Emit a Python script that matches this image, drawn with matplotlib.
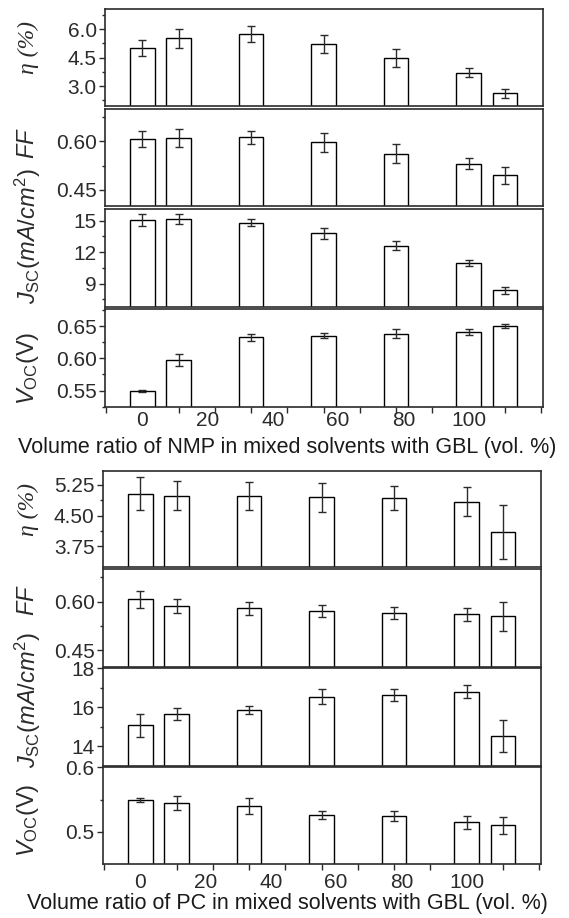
import numpy as np
import matplotlib.pyplot as plt
from matplotlib.ticker import FixedLocator, MultipleLocator, FormatStrFormatter

plt.rcParams['font.family'] = ['Liberation Sans', 'DejaVu Sans']
plt.rcParams['mathtext.fontset'] = 'custom'
plt.rcParams['mathtext.rm'] = 'Liberation Sans'
plt.rcParams['mathtext.it'] = 'Liberation Sans:italic'

# bar slots on the category axis, and where the vol.% labels sit
slots = [0, 1, 3, 5, 7, 9, 10]
ratio_labels = [0, 20, 40, 60, 80, 100]

# NMP / GBL series
nmp_eta = [5.03, 5.52, 5.74, 5.22, 4.50, 3.71, 2.61]
nmp_eta_err = [0.42, 0.49, 0.41, 0.50, 0.47, 0.25, 0.25]
nmp_ff = [0.607, 0.610, 0.613, 0.597, 0.562, 0.531, 0.495]
nmp_ff_err = [0.025, 0.028, 0.020, 0.030, 0.029, 0.018, 0.027]
nmp_jsc = [15.06, 15.16, 14.80, 13.78, 12.62, 10.98, 8.35]
nmp_jsc_err = [0.58, 0.45, 0.36, 0.50, 0.46, 0.26, 0.36]
nmp_voc = [0.5495, 0.5975, 0.6324, 0.6350, 0.6380, 0.6410, 0.6500]
nmp_voc_err = [0.002, 0.0093, 0.006, 0.004, 0.007, 0.0045, 0.0036]

# PC / GBL series
pc_eta = [5.04, 4.99, 4.99, 4.95, 4.93, 4.84, 4.09]
pc_eta_err = [0.41, 0.36, 0.34, 0.35, 0.30, 0.35, 0.66]
pc_ff = [0.607, 0.587, 0.580, 0.571, 0.566, 0.561, 0.555]
pc_ff_err = [0.026, 0.022, 0.020, 0.019, 0.018, 0.020, 0.045]
pc_jsc = [15.08, 15.65, 15.86, 16.54, 16.61, 16.80, 14.54]
pc_jsc_err = [0.58, 0.30, 0.19, 0.39, 0.30, 0.32, 0.82]
pc_voc = [0.550, 0.5443, 0.540, 0.526, 0.525, 0.515, 0.510]
pc_voc_err = [0.003, 0.0106, 0.012, 0.0065, 0.0075, 0.010, 0.0126]

W, H = 569, 918
fig = plt.figure(figsize=(W / 100, H / 100), dpi=100)
dark = '#2b2b2b'
TICK_FS = 15


def panel(left, right, top, bottom, vals, errs, ylim, major, minor, fmt, xpad=None):
    ax = fig.add_axes([left / W, 1 - bottom / H, (right - left) / W, (bottom - top) / H])
    ax.bar(slots, vals, width=0.68, bottom=0, color='white', edgecolor='black', linewidth=1.0, zorder=2)
    ax.errorbar(slots, vals, yerr=errs, fmt='none', ecolor=dark, elinewidth=1.0,
                capsize=3, capthick=1.0, zorder=3)
    ax.set_xlim(-1.03, 11.05)
    ax.set_ylim(*ylim)
    ax.yaxis.set_major_locator(FixedLocator(major))
    ax.yaxis.set_minor_locator(FixedLocator(minor))
    ax.yaxis.set_major_formatter(FormatStrFormatter(fmt))
    ax.tick_params(axis='y', which='major', direction='out', length=4, width=1, pad=2,
                   labelsize=TICK_FS, colors=dark)
    ax.tick_params(axis='y', which='minor', direction='out', length=2.5, width=1, colors=dark)
    if xpad is not None:
        ax.xaxis.set_major_locator(FixedLocator([v * 9 / 100 for v in ratio_labels]))
        ax.set_xticklabels([str(v) for v in ratio_labels])
        ax.xaxis.set_minor_locator(MultipleLocator(1))
        ax.tick_params(axis='x', which='major', length=0, labelsize=TICK_FS, pad=xpad, colors=dark)
        ax.tick_params(axis='x', which='minor', direction='out', length=4, width=1, colors=dark)
    else:
        ax.set_xticks([])
    for s in ax.spines.values():
        s.set_linewidth(1.2)
        s.set_color(dark)
    return ax


# top group (NMP)
L1, R1 = 105, 543
panel(L1, R1, 9.3, 106, nmp_eta, nmp_eta_err, (1.95, 7.05), [3.0, 4.5, 6.0], [2.25, 3.75, 5.25, 6.75], '%.1f')
panel(L1, R1, 109, 206, nmp_ff, nmp_ff_err, (0.40, 0.70), [0.45, 0.60], [0.525, 0.675], '%.2f')
panel(L1, R1, 209, 306.7, nmp_jsc, nmp_jsc_err, (6.8, 16.1), [9, 12, 15], [7.5, 10.5, 13.5], '%d')
panel(L1, R1, 309.3, 406.7, nmp_voc, nmp_voc_err, (0.525, 0.676), [0.55, 0.60, 0.65],
      [0.525, 0.575, 0.625, 0.675], '%.2f', xpad=3)

# bottom group (PC)
L2, R2 = 103, 541
panel(L2, R2, 470.7, 566.7, pc_eta, pc_eta_err, (3.25, 5.6), [3.75, 4.50, 5.25], [4.125, 4.875], '%.2f')
panel(L2, R2, 569.3, 666.7, pc_ff, pc_ff_err, (0.40, 0.70), [0.45, 0.60], [0.525, 0.675], '%.2f')
panel(L2, R2, 668, 766, pc_jsc, pc_jsc_err, (13.0, 18.0), [14, 16, 18], [15, 17], '%d')
panel(L2, R2, 767.3, 864.3, pc_voc, pc_voc_err, (0.45, 0.60), [0.5, 0.6], [0.55], '%.1f', xpad=6)

# x labels, centred on the figure like the original
fig.text(287 / W, 1 - 447 / H, 'Volume ratio of NMP in mixed solvents with GBL (vol. %)',
         ha='center', va='center', fontsize=15.5, color='#1a1a1a')
fig.text(287 / W, 1 - 904 / H, 'Volume ratio of PC in mixed solvents with GBL (vol. %)',
         ha='center', va='center', fontsize=15.5, color='#1a1a1a')


# y labels
def ylab(x, y, s, **kw):
    fig.text(x / W, 1 - y / H, s, rotation=90, ha='center', va='center', fontsize=17, color=dark, **kw)


eta_kw = dict(family='Liberation Serif', style='italic')
ylab(28, 48, 'η (%)', **eta_kw)
ylab(28, 143, r'$FF$')
ylab(28, 236, r'$J_{\rm SC}(mA/cm^2)$')
ylab(28, 368, r'$V_{\rm OC}\mathrm{(V)}$')
ylab(28, 510, 'η (%)', **eta_kw)
ylab(28, 600, r'$FF$')
ylab(28, 700, r'$J_{\rm SC}(mA/cm^2)$')
ylab(28, 820, r'$V_{\rm OC}\mathrm{(V)}$')

fig.savefig('out.png', dpi=100)
